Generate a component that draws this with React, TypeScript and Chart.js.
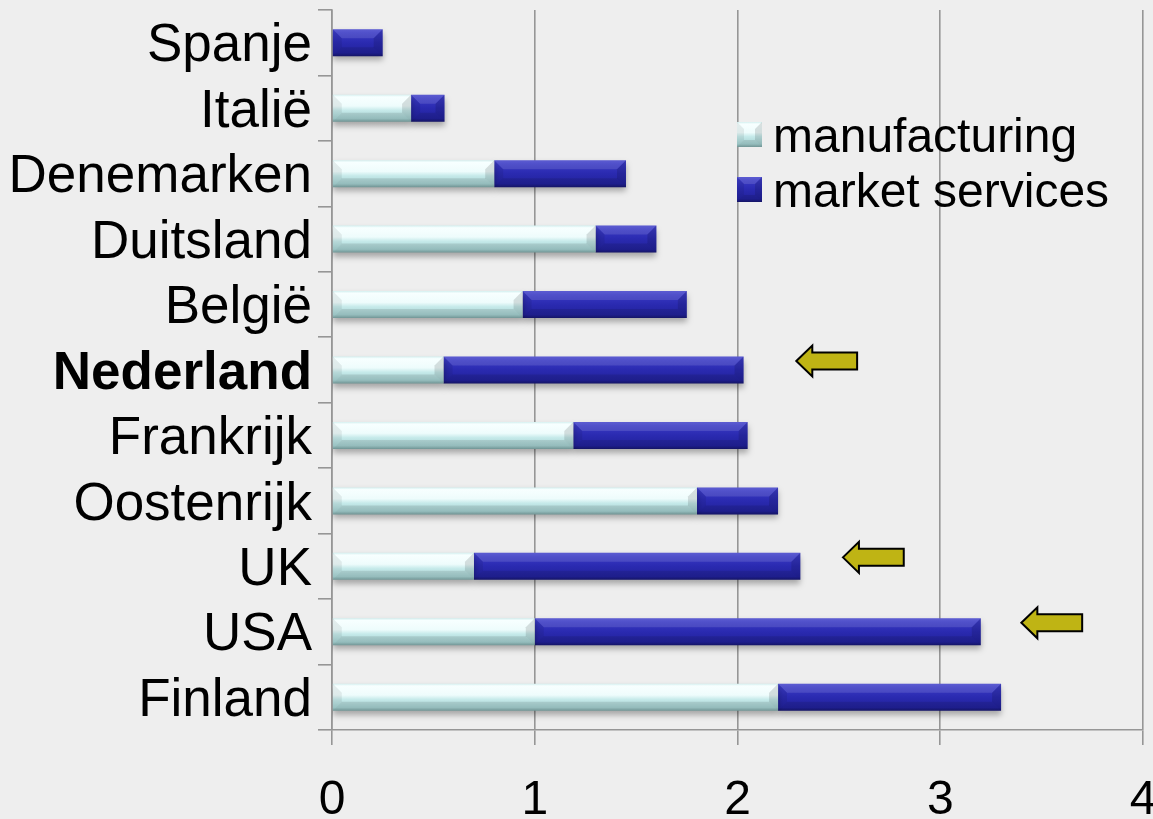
import React, { useEffect, useRef } from 'react';
import { Chart, registerables } from 'chart.js';

Chart.register(...registerables);

// ---- data ----
const categories = ['Spanje', 'Italië', 'Denemarken', 'Duitsland', 'België', 'Nederland', 'Frankrijk', 'Oostenrijk', 'UK', 'USA', 'Finland'];
const manufacturing = [0, 0.39, 0.8, 1.3, 0.94, 0.55, 1.19, 1.8, 0.7, 1.0, 2.2];
const marketServices = [0.25, 0.165, 0.65, 0.3, 0.81, 1.48, 0.86, 0.4, 1.61, 2.2, 1.1];
const seriesLabels = ['manufacturing', 'market services'];
const xTickValues = [0, 1, 2, 3, 4];
const boldCategory = 'Nederland';
const arrowCategories = ['Nederland', 'UK', 'USA'];
const arrowFrom = [2.29, 2.52, 3.4];
const arrowTo = [2.59, 2.82, 3.7];

// ---- styles ----
const FONT = "'Liberation Sans', Arial, Helvetica, sans-serif";
const BG = '#eeeeee';
const GRID = '#969696';
const BAR_PCT = 0.4125;

type Stop = [number, string];
const STOPS: Stop[][] = [
  [[0, '#cfeeee'], [0.08, '#f6ffff'], [0.42, '#eefcfc'], [0.58, '#c6eaea'], [0.88, '#a6d2d2'], [1, '#7ea6a6']],
  [[0, '#4646cc'], [0.15, '#3838c2'], [0.5, '#2a2ab0'], [0.88, '#22229c'], [1, '#171772']],
];
const SOLID = ['#c6eaea', '#2a2ab0'];

function vGrad(c: CanvasRenderingContext2D, top: number, bottom: number, stops: Stop[]) {
  const g = c.createLinearGradient(0, top, 0, bottom);
  stops.forEach(([o, col]) => g.addColorStop(o, col));
  return g;
}

function poly(c: CanvasRenderingContext2D, pts: number[][], fill: string) {
  c.beginPath();
  c.moveTo(pts[0][0], pts[0][1]);
  for (let i = 1; i < pts.length; i++) c.lineTo(pts[i][0], pts[i][1]);
  c.closePath();
  c.fillStyle = fill;
  c.fill();
}

function bevel(c: CanvasRenderingContext2D, l: number, t: number, r: number, b: number, size: number) {
  const w = r - l;
  const h = b - t;
  const bv = Math.min(size, w / 2, h / 2);
  poly(c, [[l, t], [r, t], [r - bv, t + bv], [l + bv, t + bv]], 'rgba(255,255,255,0.12)');
  poly(c, [[l, b], [r, b], [r - bv, b - bv], [l + bv, b - bv]], 'rgba(0,0,0,0.1)');
  poly(c, [[l, t], [l + bv, t + bv], [l + bv, b - bv], [l, b]], 'rgba(0,0,0,0.07)');
  poly(c, [[r, t], [r - bv, t + bv], [r - bv, b - bv], [r, b]], 'rgba(0,0,0,0.12)');
}

const makeBg = (si: number) => (ctx: any) => {
  const chart = ctx.chart;
  const ys = chart.scales && chart.scales.y;
  if (!chart.chartArea || !ys) return SOLID[si];
  const yc = ys.getPixelForValue(ctx.dataIndex);
  const half = (ys.height / categories.length) * BAR_PCT / 2;
  return vGrad(chart.ctx, yc - half, yc + half, STOPS[si]);
};

const decorPlugin = {
  id: 'decor',
  beforeDraw(chart: any) {
    const c = chart.ctx;
    c.save();
    c.fillStyle = BG;
    c.fillRect(0, 0, chart.width, chart.height);
    c.restore();
  },
  beforeDatasetsDraw(chart: any) {
    const c = chart.ctx;
    c.save();
    c.shadowColor = 'rgba(0,0,0,0.3)';
    c.shadowOffsetY = 4;
    c.shadowBlur = 6;
  },
  afterDatasetsDraw(chart: any) {
    const c = chart.ctx;
    c.restore();
    // bevel overlays on bars
    chart.data.datasets.forEach((_ds: any, di: number) => {
      const meta = chart.getDatasetMeta(di);
      meta.data.forEach((el: any) => {
        const { x, y, base, height } = el.getProps(['x', 'y', 'base', 'height'], true);
        const l = Math.min(x, base);
        const r = Math.max(x, base);
        if (r - l < 1) return;
        c.save();
        bevel(c, l, y - height / 2, r, y + height / 2, 9);
        c.restore();
      });
    });
    // arrows
    const xs = chart.scales.x;
    const ys = chart.scales.y;
    arrowCategories.forEach((cat, i) => {
      const yc = ys.getPixelForValue(categories.indexOf(cat)) - 9;
      const x0 = xs.getPixelForValue(arrowFrom[i]);
      const x1 = xs.getPixelForValue(arrowTo[i]);
      const head = 16, hh = 15.5, sh = 8.5;
      c.save();
      c.beginPath();
      c.moveTo(x0, yc);
      c.lineTo(x0 + head, yc - hh);
      c.lineTo(x0 + head, yc - sh);
      c.lineTo(x1, yc - sh);
      c.lineTo(x1, yc + sh);
      c.lineTo(x0 + head, yc + sh);
      c.lineTo(x0 + head, yc + hh);
      c.closePath();
      c.fillStyle = '#bfb414';
      c.fill();
      c.lineWidth = 2;
      c.lineJoin = 'miter';
      c.strokeStyle = '#000';
      c.stroke();
      c.restore();
    });
    // legend inside plot
    chart.data.datasets.forEach((ds: any, i: number) => {
      const top = 122 + i * 55;
      const left = 737;
      const s = 25;
      c.save();
      c.fillStyle = vGrad(c, top, top + s, STOPS[i]);
      c.fillRect(left, top, s, s);
      bevel(c, left, top, left + s, top + s, 7);
      c.fillStyle = '#000';
      c.font = `48px ${FONT}`;
      c.textAlign = 'left';
      c.textBaseline = 'alphabetic';
      c.fillText(ds.label, 773, top + 30);
      c.restore();
    });
  },
};

export default function App() {
  const ref = useRef<HTMLCanvasElement | null>(null);

  useEffect(() => {
    document.body.style.margin = '0';
    document.body.style.background = BG;
    if (!ref.current) return;
    const chart = new Chart(ref.current, {
      type: 'bar',
      data: {
        labels: categories,
        datasets: [
          {
            label: seriesLabels[0],
            data: manufacturing,
            backgroundColor: makeBg(0),
            borderWidth: 0,
            barPercentage: BAR_PCT,
            categoryPercentage: 1,
          },
          {
            label: seriesLabels[1],
            data: marketServices,
            backgroundColor: makeBg(1),
            borderWidth: 0,
            barPercentage: BAR_PCT,
            categoryPercentage: 1,
          },
        ],
      },
      options: {
        indexAxis: 'y',
        responsive: false,
        animation: false,
        devicePixelRatio: 1,
        events: [],
        layout: { padding: { top: 10, right: 10, left: 0, bottom: 0 } },
        plugins: {
          legend: { display: false },
          tooltip: { enabled: false },
        },
        scales: {
          x: {
            type: 'linear',
            stacked: true,
            min: 0,
            max: 4,
            afterBuildTicks(scale: any) {
              scale.ticks = xTickValues.map((v) => ({ value: v }));
            },
            ticks: {
              stepSize: 1,
              color: '#000',
              font: { family: FONT, size: 48 },
              padding: 27,
              maxRotation: 0,
              autoSkip: false,
            },
            grid: {
              color: GRID,
              lineWidth: 1.6,
              tickLength: 15,
              drawTicks: true,
              drawOnChartArea: true,
            },
            border: { display: true, color: GRID, width: 1.6 },
            afterFit(scale: any) {
              scale.height = 89;
              scale.paddingLeft = 0;
              scale.paddingRight = 0;
            },
          },
          y: {
            type: 'category',
            stacked: true,
            ticks: {
              color: '#000',
              padding: 6,
              labelOffset: 4,
              autoSkip: false,
              font: (ctx: any) => ({
                family: FONT,
                size: 53,
                weight: categories[ctx.index] === boldCategory ? 'bold' : 'normal',
              }),
            },
            grid: {
              offset: true,
              drawOnChartArea: false,
              drawTicks: true,
              tickLength: 14,
              color: GRID,
              lineWidth: 1.6,
            },
            border: { display: true, color: GRID, width: 1.6 },
            afterFit(scale: any) {
              scale.width = 332;
              scale.paddingTop = 0;
              scale.paddingBottom = 0;
            },
          },
        },
      } as any,
      plugins: [decorPlugin],
    });
    return () => chart.destroy();
  }, []);

  return (
    <div style={{ position: 'fixed', left: 0, top: 0, width: 1153, height: 819, background: BG }}>
      <canvas ref={ref} width={1153} height={819} style={{ display: 'block' }} />
    </div>
  );
}
